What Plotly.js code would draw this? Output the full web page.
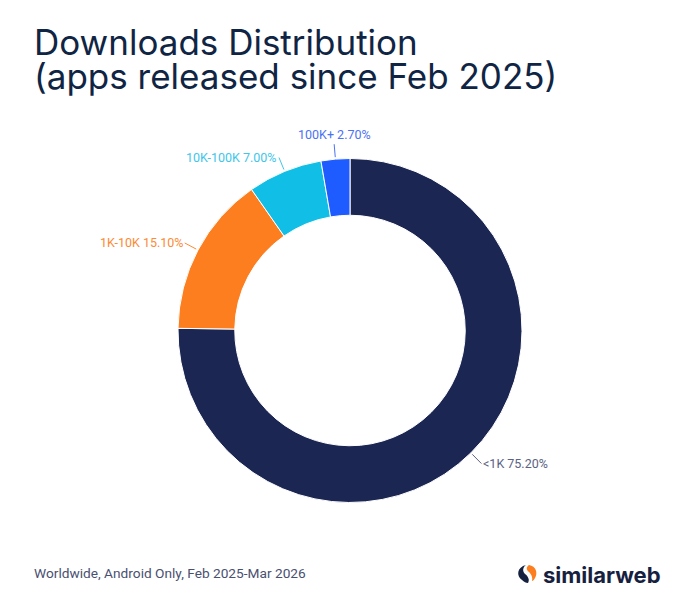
<!DOCTYPE html>
<html>
<head>
<meta charset="utf-8">
<script src="https://cdn.plot.ly/plotly-3.0.1.min.js"></script>
<style>html,body{margin:0;padding:0;background:#fff;}#chart{width:700px;height:610px;}</style>
</head>
<body>
<div id="chart"></div>
<script>
const categories = ['<1K', '1K-10K', '10K-100K', '100K+'];
const shares = [75.2, 15.1, 7.0, 2.7];
const sliceColors = ['#1b2652', '#fd7e1e', '#10bee6', '#1f5cff'];
const labelColors = ['#5b6282', '#fd8a35', '#3fc6ea', '#4b72f5'];
const titleLines = ['Downloads Distribution', '(apps released since Feb 2025)'];
const footnote = 'Worldwide, Android Only, Feb 2025-Mar 2026';

const W = 700, H = 610;
const cx = 350, cy = 330.5, R = 172;

const px = x => x / W;
const py = y => 1 - y / H;

const total = shares.reduce((a, b) => a + b, 0);
const annotations = [];
let cum = 0;
shares.forEach((v, i) => {
  const mid = (cum + v / 2) / total * 2 * Math.PI;
  cum += v;
  const s = Math.sin(mid), c = Math.cos(mid);
  const tipX = cx + (R + 2) * s, tipY = cy - (R + 2) * c;
  const tailX = cx + (R + 15) * s, tailY = cy - (R + 15) * c;
  const top = Math.abs(s) < 0.2;
  annotations.push({
    x: px(tipX), y: py(tipY), xref: 'paper', yref: 'paper',
    ax: tailX - tipX, ay: tailY - tipY,
    text: categories[i] + ' ' + v.toFixed(2) + '%',
    showarrow: true, arrowhead: 0, arrowwidth: 1, arrowcolor: labelColors[i],
    xanchor: top ? 'center' : (s < 0 ? 'right' : 'left'),
    yanchor: top ? 'bottom' : 'middle',
    standoff: 0, startstandoff: 0,
    font: {family: 'Roboto, sans-serif', size: 12.5, color: labelColors[i]}
  });
});

annotations.push({
  x: px(32), y: py(65), xref: 'paper', yref: 'paper', xanchor: 'left', yanchor: 'bottom',
  text: titleLines[0], showarrow: false,
  font: {family: 'Inter, sans-serif', size: 35, color: '#102544'}
});
annotations.push({
  x: px(32), y: py(99), xref: 'paper', yref: 'paper', xanchor: 'left', yanchor: 'bottom',
  text: titleLines[1], showarrow: false,
  font: {family: 'Inter, sans-serif', size: 35, color: '#102544'}
});
annotations.push({
  x: px(32), y: py(573), xref: 'paper', yref: 'paper', xanchor: 'left', yanchor: 'middle',
  text: footnote, showarrow: false,
  font: {family: 'Roboto, sans-serif', size: 13.7, color: '#4a5070'}
});
annotations.push({
  x: px(541), y: py(575), xref: 'paper', yref: 'paper', xanchor: 'left', yanchor: 'middle',
  text: '<b>similarweb</b>', showarrow: false,
  font: {family: 'Inter, sans-serif', size: 22, color: '#16213f'}
});

const shapes = [
  {type: 'path', xref: 'paper', yref: 'paper',
   path: `M ${px(526)} ${py(565)} C ${px(517)} ${py(567)} ${px(516)} ${py(576)} ${px(522)} ${py(580)} C ${px(524)} ${py(582)} ${px(526)} ${py(583)} ${px(528)} ${py(583)} C ${px(530)} ${py(580)} ${px(528)} ${py(576)} ${px(525)} ${py(574)} C ${px(522)} ${py(571)} ${px(523)} ${py(567)} ${px(526)} ${py(565)} Z`,
   fillcolor: '#16213f', line: {width: 0}},
  {type: 'path', xref: 'paper', yref: 'paper',
   path: `M ${px(529)} ${py(565)} C ${px(536)} ${py(566)} ${px(538)} ${py(573)} ${px(535)} ${py(578)} C ${px(534)} ${py(580)} ${px(533)} ${py(581)} ${px(532)} ${py(581)} C ${px(533)} ${py(577)} ${px(531)} ${py(574)} ${px(529)} ${py(572)} C ${px(526)} ${py(570)} ${px(526)} ${py(567)} ${px(529)} ${py(565)} Z`,
   fillcolor: '#fd7e1e', line: {width: 0}}
];

const data = [{
  type: 'pie',
  labels: categories,
  values: shares,
  hole: 0.67,
  sort: false,
  direction: 'clockwise',
  rotation: 0,
  textinfo: 'none',
  hoverinfo: 'label+percent',
  marker: {colors: sliceColors, line: {color: '#ffffff', width: 1}},
  domain: {x: [px(cx - R), px(cx + R)], y: [py(cy + R), py(cy - R)]},
  showlegend: false
}];

const layout = {
  width: W, height: H,
  margin: {l: 0, r: 0, t: 0, b: 0},
  paper_bgcolor: '#ffffff',
  showlegend: false,
  annotations: annotations,
  shapes: shapes
};

Plotly.newPlot('chart', data, layout, {displayModeBar: false, staticPlot: true});
</script>
</body>
</html>
